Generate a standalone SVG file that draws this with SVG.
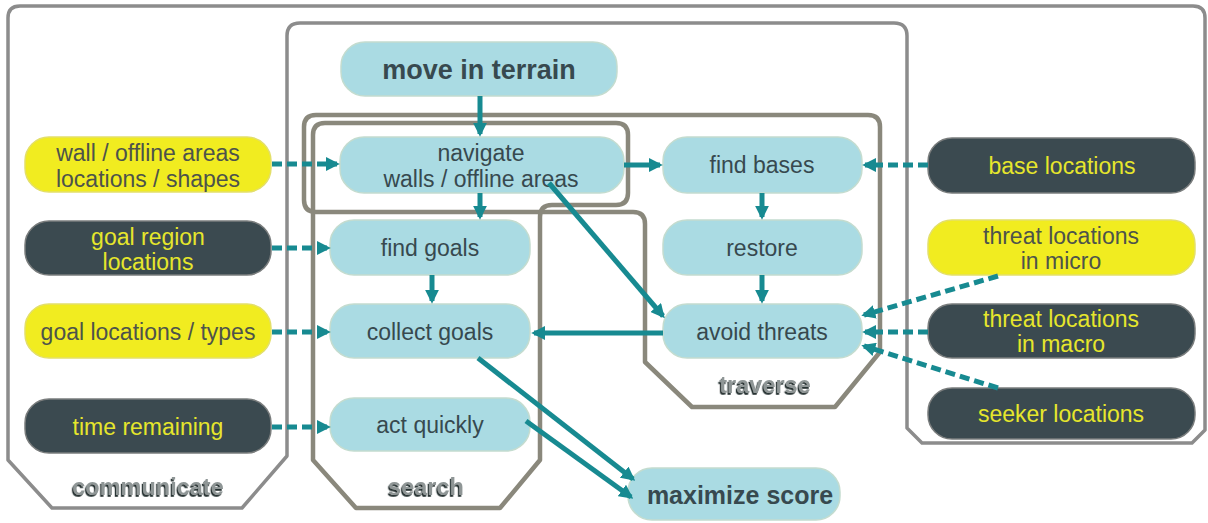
<svg xmlns="http://www.w3.org/2000/svg" width="1208" height="523" viewBox="0 0 1208 523">
<defs>
<style>
.frame{fill:none;stroke:#8c8c8c;stroke-width:3.5;stroke-linejoin:round}
.tframe{fill:none;stroke:#8a887c;stroke-width:4.5;stroke-linejoin:round}
.lb{fill:#aadbe3;stroke:#c4dccf;stroke-width:1.5}
.dk{fill:#3b4a50;stroke:#7a7d7d;stroke-width:1.5}
.yl{fill:#f1ec20;stroke:#e3df6a;stroke-width:1.5}
text{font-family:"Liberation Sans",Arial,Helvetica,sans-serif;text-anchor:middle}
.t{font-size:23px;fill:#37494f}
.ty{font-size:23px;fill:#e6e62c}
.td{font-size:23px;fill:#4d534b}
.big{font-size:27px;font-weight:bold;fill:#37494f}
.grp{font-size:23.5px;font-weight:bold;fill:#8f9696;filter:url(#sh)}
.c{fill:none;stroke:#178a91;stroke-width:5;marker-end:url(#ah)}
.d{fill:none;stroke:#178a91;stroke-width:5;stroke-dasharray:10 5;marker-end:url(#ah)}
</style>
<marker id="ah" viewBox="0 0 10 10" refX="8" refY="5" markerWidth="2.8" markerHeight="2.8" orient="auto">
<path d="M0,0 L10,5 L0,10 Z" fill="#178a91" stroke="none"/>
</marker>
<filter id="sh" x="-10%" y="-30%" width="120%" height="160%">
<feDropShadow dx="-1.2" dy="1.8" stdDeviation="0.6" flood-color="#263030" flood-opacity="1"/>
</filter>
</defs>

<g id="frames">
<path id="frame-communicate-outer" class="frame" d="M8,458 L8,18 Q8,6 20,6 L1193,6 Q1205,6 1205,18 L1205,430 L1192,443 L922,443 L907,428 L907,36 Q907,23 894,23 L300,23 Q287,23 287,36 L287,456 L242,508 L52,508 L8,460 Z"/>
<path id="frame-traverse" class="tframe" d="M304,127 Q304,115 316,115 L868,115 Q880,115 880,127 L880,352 L835,407 L692,407 L645,362 L645,224 Q645,212 633,212 L316,212 Q304,212 304,200 Z"/>
<path id="frame-search" class="tframe" d="M313,135 Q313,123 325,123 L616,123 Q628,123 628,135 L628,193 Q628,205 616,205 L552,205 Q540,205 540,217 L540,460 L500,508 L356,508 L313,460 Z"/>
<text class="grp" x="148" y="495">communicate</text>
<text class="grp" x="426" y="495">search</text>
<text class="grp" x="765" y="393">traverse</text>
</g>

<g id="node-move">
<rect class="lb" x="341" y="42" width="276" height="54" rx="24"/>
<text class="big" x="479" y="79">move in terrain</text>
</g>
<g id="node-navigate">
<rect class="lb" x="340" y="137" width="284" height="56" rx="24"/>
<text class="t" x="481" y="161">navigate</text>
<text class="t" x="481" y="187">walls / offline areas</text>
</g>
<g id="node-find-goals">
<rect class="lb" x="330" y="220" width="200" height="55" rx="24"/>
<text class="t" x="430" y="256">find goals</text>
</g>
<g id="node-collect-goals">
<rect class="lb" x="330" y="304" width="200" height="54" rx="24"/>
<text class="t" x="430" y="340">collect goals</text>
</g>
<g id="node-act-quickly">
<rect class="lb" x="330" y="398" width="200" height="53" rx="24"/>
<text class="t" x="430" y="433">act quickly</text>
</g>
<g id="node-find-bases">
<rect class="lb" x="663" y="137" width="199" height="56" rx="24"/>
<text class="t" x="762" y="173">find bases</text>
</g>
<g id="node-restore">
<rect class="lb" x="663" y="220" width="199" height="55" rx="24"/>
<text class="t" x="762" y="256">restore</text>
</g>
<g id="node-avoid-threats">
<rect class="lb" x="663" y="304" width="199" height="54" rx="24"/>
<text class="t" x="762" y="340">avoid threats</text>
</g>
<g id="node-maximize">
<rect class="lb" x="628" y="468" width="212" height="52" rx="24"/>
<text class="big" x="740" y="504" style="font-size:25px">maximize score</text>
</g>

<g id="node-wall">
<rect class="yl" x="25" y="137" width="246" height="55" rx="24"/>
<text class="td" x="148" y="161">wall / offline areas</text>
<text class="td" x="148" y="187">locations / shapes</text>
</g>
<g id="node-goal-region">
<rect class="dk" x="25" y="221" width="246" height="54" rx="24"/>
<text class="ty" x="148" y="245">goal region</text>
<text class="ty" x="148" y="270">locations</text>
</g>
<g id="node-goal-locations">
<rect class="yl" x="25" y="304" width="246" height="54" rx="24"/>
<text class="td" x="148" y="340">goal locations / types</text>
</g>
<g id="node-time">
<rect class="dk" x="25" y="399" width="246" height="54" rx="24"/>
<text class="ty" x="148" y="435">time remaining</text>
</g>

<g id="node-base-locations">
<rect class="dk" x="928" y="138" width="267" height="55" rx="24"/>
<text class="ty" x="1062" y="174">base locations</text>
</g>
<g id="node-threat-micro">
<rect class="yl" x="928" y="220" width="267" height="55" rx="24"/>
<text class="td" x="1061" y="244">threat locations</text>
<text class="td" x="1061" y="269">in micro</text>
</g>
<g id="node-threat-macro">
<rect class="dk" x="928" y="304" width="267" height="54" rx="24"/>
<text class="ty" x="1061" y="327">threat locations</text>
<text class="ty" x="1061" y="352">in macro</text>
</g>
<g id="node-seeker">
<rect class="dk" x="928" y="388" width="267" height="51" rx="24"/>
<text class="ty" x="1061" y="422">seeker locations</text>
</g>

<g id="connectors">
<path class="c" d="M480,96 L480,134"/>
<path class="c" d="M480,193 L480,217"/>
<path class="c" d="M432,275 L432,301"/>
<path class="c" d="M762,193 L762,217"/>
<path class="c" d="M762,275 L762,301"/>
<path class="c" d="M624,165 L660,165"/>
<path class="c" d="M663,333 L534,333"/>
<path class="c" d="M549,183 L663,316"/>
<path class="c" d="M478,358 L633,479"/>
<path class="c" d="M526,421 L631,497"/>
<path class="d" d="M272,164 L337,164"/>
<path class="d" d="M272,248 L328,248"/>
<path class="d" d="M272,332 L328,332"/>
<path class="d" d="M272,427 L328,427"/>
<path class="d" d="M928,165 L865,165"/>
<path class="d" d="M998,276 L864,315"/>
<path class="d" d="M928,332 L865,332"/>
<path class="d" d="M998,388 L864,346"/>
</g>
</svg>
